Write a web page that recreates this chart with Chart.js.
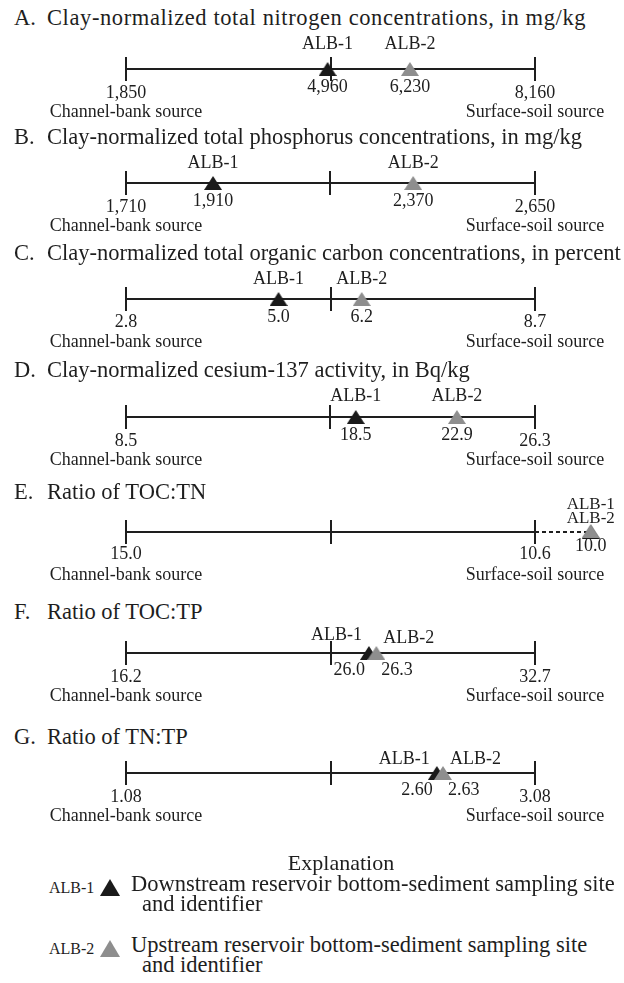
<!DOCTYPE html>
<html>
<head>
<meta charset="utf-8">
<script src="https://cdn.jsdelivr.net/npm/chart.js@4.4.1/dist/chart.umd.min.js"></script>
<style>
  body { margin: 0; background: #fff; }
  #page { position: relative; width: 624px; height: 983px; font-family: "Liberation Serif", "Times New Roman", serif; color: #1e1e1e; }
  .title { position: absolute; left: 14px; font-size: 22.5px; line-height: 24px; white-space: nowrap; }
  .title .letter { display: inline-block; width: 33px; letter-spacing: 0; }
  canvas.panel { position: absolute; left: 0; }
  #explain { position: absolute; top: 851px; left: 0; width: 682px; text-align: center; font-size: 22px; line-height: 24px; }
  .key { position: absolute; left: 49px; font-size: 22.5px; line-height: 20px; }
  .key .id { position: absolute; left: 0; top: -4px; font-size: 16px; white-space: nowrap; }
  .key .mark { position: absolute; left: 51px; top: -3px; width: 0; height: 0; border-left: 10px solid transparent; border-right: 10px solid transparent; border-bottom: 17px solid #1e1e1e; }
  .key .text { position: absolute; left: 82px; top: -8px; white-space: nowrap; }
  .key .text span { display: block; padding-left: 11px; }
</style>
</head>
<body>
<div id="page"></div>
<script>
const panelLetters = ['A.', 'B.', 'C.', 'D.', 'E.', 'F.', 'G.'];
const panelTitles = [
  'Clay-normalized total nitrogen concentrations, in mg/kg',
  'Clay-normalized total phosphorus concentrations, in mg/kg',
  'Clay-normalized total organic carbon concentrations, in percent',
  'Clay-normalized cesium-137 activity, in Bq/kg',
  'Ratio of TOC:TN',
  'Ratio of TOC:TP',
  'Ratio of TN:TP'
];
const channelBank = [1850, 1710, 2.8, 8.5, 15.0, 16.2, 1.08];
const surfaceSoil = [8160, 2650, 8.7, 26.3, 10.6, 32.7, 3.08];
const alb1 = [4960, 1910, 5.0, 18.5, 10.0, 26.0, 2.60];
const alb2 = [6230, 2370, 6.2, 22.9, 10.0, 26.3, 2.63];
const digits = [0, 0, 1, 1, 1, 1, 2];
const siteNames = ['ALB-1', 'ALB-2'];
const sourceNames = ['Channel-bank source', 'Surface-soil source'];

// page layout (pixels)
const lineY = [69, 183, 299, 417, 532, 653, 773];
const titleY = [18, 137, 253, 370, 492, 612, 737];
const titleSpacing = [0.6, 0, 0, 0, 0, 0, 0];
const labelMode = ['center', 'center', 'center', 'center', 'stack', 'split', 'split'];
const albDy = [[-25, -25], [-20, -20], [-20, -20], [-21, -21], [-27, -13], [-18, -15], [-14, -14]];
const valDy = [18, 18, 18, 18, 14, 17, 17];
const endDy = [24, 24, 23, 24, 22, 24, 24];
const LEFT = 126, RIGHT = 535, W = 624, H = 110, TOP = 45;

const ink = '#1e1e1e';
const dark = '#1a1a1a';
const grey = '#8e8e8e';

function fmt(v, d) {
  return v.toLocaleString('en-US', { minimumFractionDigits: d, maximumFractionDigits: d });
}

// triangle marker; lift leaves empty rows under the base
function triangleMark(color, lift) {
  const c = document.createElement('canvas');
  c.width = 18;
  c.height = 14 + 2 * lift;
  const ctx = c.getContext('2d');
  ctx.fillStyle = color;
  ctx.beginPath();
  ctx.moveTo(9, 0);
  ctx.lineTo(18, 14);
  ctx.lineTo(0, 14);
  ctx.closePath();
  ctx.fill();
  return c;
}
const darkMark = triangleMark(dark, 0);
const greyMark = triangleMark(grey, 0);
const greyMarkLifted = triangleMark(grey, 1);

const labelsPlugin = {
  id: 'labels',
  beforeDatasetsDraw(chart) {
    const { ctx, scales: { x, y } } = chart;
    const i = chart.options.plugins.labels.index;
    const a = channelBank[i], b = surfaceSoil[i];
    const y0 = y.getPixelForValue(0);
    ctx.save();
    ctx.strokeStyle = ink;
    ctx.lineWidth = 2;
    [a, (a + b) / 2, b].forEach((v) => {
      const px = Math.round(x.getPixelForValue(v));
      ctx.beginPath();
      ctx.moveTo(px, y0 - 12);
      ctx.lineTo(px, y0 + 12);
      ctx.stroke();
    });
    ctx.restore();
  },
  afterDatasetsDraw(chart) {
    const { ctx, scales: { x, y } } = chart;
    const i = chart.options.plugins.labels.index;
    const d = digits[i];
    const y0 = y.getPixelForValue(0);
    const xa = x.getPixelForValue(channelBank[i]);
    const xb = x.getPixelForValue(surfaceSoil[i]);
    const x1 = x.getPixelForValue(alb1[i]);
    const x2 = x.getPixelForValue(alb2[i]);
    ctx.save();
    ctx.fillStyle = ink;
    ctx.textBaseline = 'middle';
    const text = (s, px, py, align, size) => {
      ctx.font = size + 'px "Liberation Serif", "Times New Roman", serif';
      ctx.textAlign = align;
      ctx.fillText(s, px, py);
    };
    // endpoints
    text(fmt(channelBank[i], d), xa, y0 + endDy[i], 'center', 18);
    text(fmt(surfaceSoil[i], d), xb, y0 + endDy[i], 'center', 18);
    text(sourceNames[0], xa, y0 + 43, 'center', 18);
    text(sourceNames[1], xb, y0 + 43, 'center', 18);
    // sampling sites
    const mode = labelMode[i];
    if (mode === 'center') {
      text(siteNames[0], x1, y0 + albDy[i][0], 'center', 18);
      text(siteNames[1], x2, y0 + albDy[i][1], 'center', 18);
      text(fmt(alb1[i], d), x1, y0 + valDy[i], 'center', 18);
      text(fmt(alb2[i], d), x2, y0 + valDy[i], 'center', 18);
    } else if (mode === 'stack') {
      text(siteNames[0], x1, y0 + albDy[i][0], 'center', 17);
      text(siteNames[1], x2, y0 + albDy[i][1], 'center', 17);
      text(fmt(alb1[i], d), x1, y0 + valDy[i], 'center', 18);
    } else {
      text(siteNames[0], x1 - 7, y0 + albDy[i][0], 'right', 18);
      text(siteNames[1], x2 + 7, y0 + albDy[i][1], 'left', 18);
      text(fmt(alb1[i], d), x1 - 4, y0 + valDy[i], 'right', 18);
      text(fmt(alb2[i], d), x2 + 5, y0 + valDy[i], 'left', 18);
    }
    ctx.restore();
  }
};

const page = document.getElementById('page');

panelTitles.forEach((title, i) => {
  const t = document.createElement('div');
  t.className = 'title';
  t.style.top = (titleY[i] - 12) + 'px';
  t.style.letterSpacing = titleSpacing[i] + 'px';
  t.innerHTML = '<span class="letter">' + panelLetters[i] + '</span>' + title;
  page.appendChild(t);

  const canvas = document.createElement('canvas');
  canvas.className = 'panel';
  canvas.width = W;
  canvas.height = H;
  canvas.style.top = (lineY[i] - TOP) + 'px';
  page.appendChild(canvas);

  const a = channelBank[i], b = surfaceSoil[i];
  const k = Math.abs(b - a) / (RIGHT - LEFT);
  const reverse = b < a;
  const min = reverse ? a + LEFT * k - W * k : a - LEFT * k;
  const max = min + W * k;

  // dashed extension when a site falls past the surface-soil end
  const far = [alb1[i], alb2[i]].filter((v) => (reverse ? v < b : v > b));
  const stacked = alb1[i] === alb2[i];
  const datasets = [
    { data: [{ x: alb2[i], y: 0 }], pointStyle: stacked ? greyMarkLifted : greyMark, pointRadius: 9, showLine: false },
    { data: [{ x: alb1[i], y: 0 }], pointStyle: darkMark, pointRadius: 9, showLine: false },
    { data: [{ x: a, y: 0 }, { x: b, y: 0 }], borderColor: ink, borderWidth: 2, pointRadius: 0, showLine: true }
  ];
  if (far.length) {
    const end = reverse ? Math.max(...far) : Math.min(...far);
    datasets.push({ data: [{ x: b, y: 0 }, { x: end, y: 0 }], borderColor: ink, borderWidth: 2, borderDash: [4, 3], pointRadius: 0, showLine: true });
  }

  new Chart(canvas, {
    type: 'scatter',
    data: { datasets },
    options: {
      responsive: false,
      animation: false,
      events: [],
      layout: { padding: 0, autoPadding: false },
      scales: {
        x: { type: 'linear', min, max, reverse, display: false },
        y: { min: -(H - TOP), max: TOP, display: false }
      },
      plugins: { legend: { display: false }, tooltip: { enabled: false }, labels: { index: i } }
    },
    plugins: [labelsPlugin]
  });
});

const explain = document.createElement('div');
explain.id = 'explain';
explain.textContent = 'Explanation';
page.appendChild(explain);

const keyText = [
  ['Downstream reservoir bottom-sediment sampling site', 'and identifier'],
  ['Upstream reservoir bottom-sediment sampling site', 'and identifier']
];
const keyY = [892, 953];
const keyColors = [dark, grey];
keyText.forEach((lines, j) => {
  const k = document.createElement('div');
  k.className = 'key';
  k.style.top = (keyY[j] - 10) + 'px';
  k.innerHTML = '<div class="id">' + siteNames[j] + '</div>' +
    '<div class="mark" style="border-bottom-color:' + keyColors[j] + '"></div>' +
    '<div class="text">' + lines[0] + '<span>' + lines[1] + '</span></div>';
  page.appendChild(k);
});
</script>
</body>
</html>
